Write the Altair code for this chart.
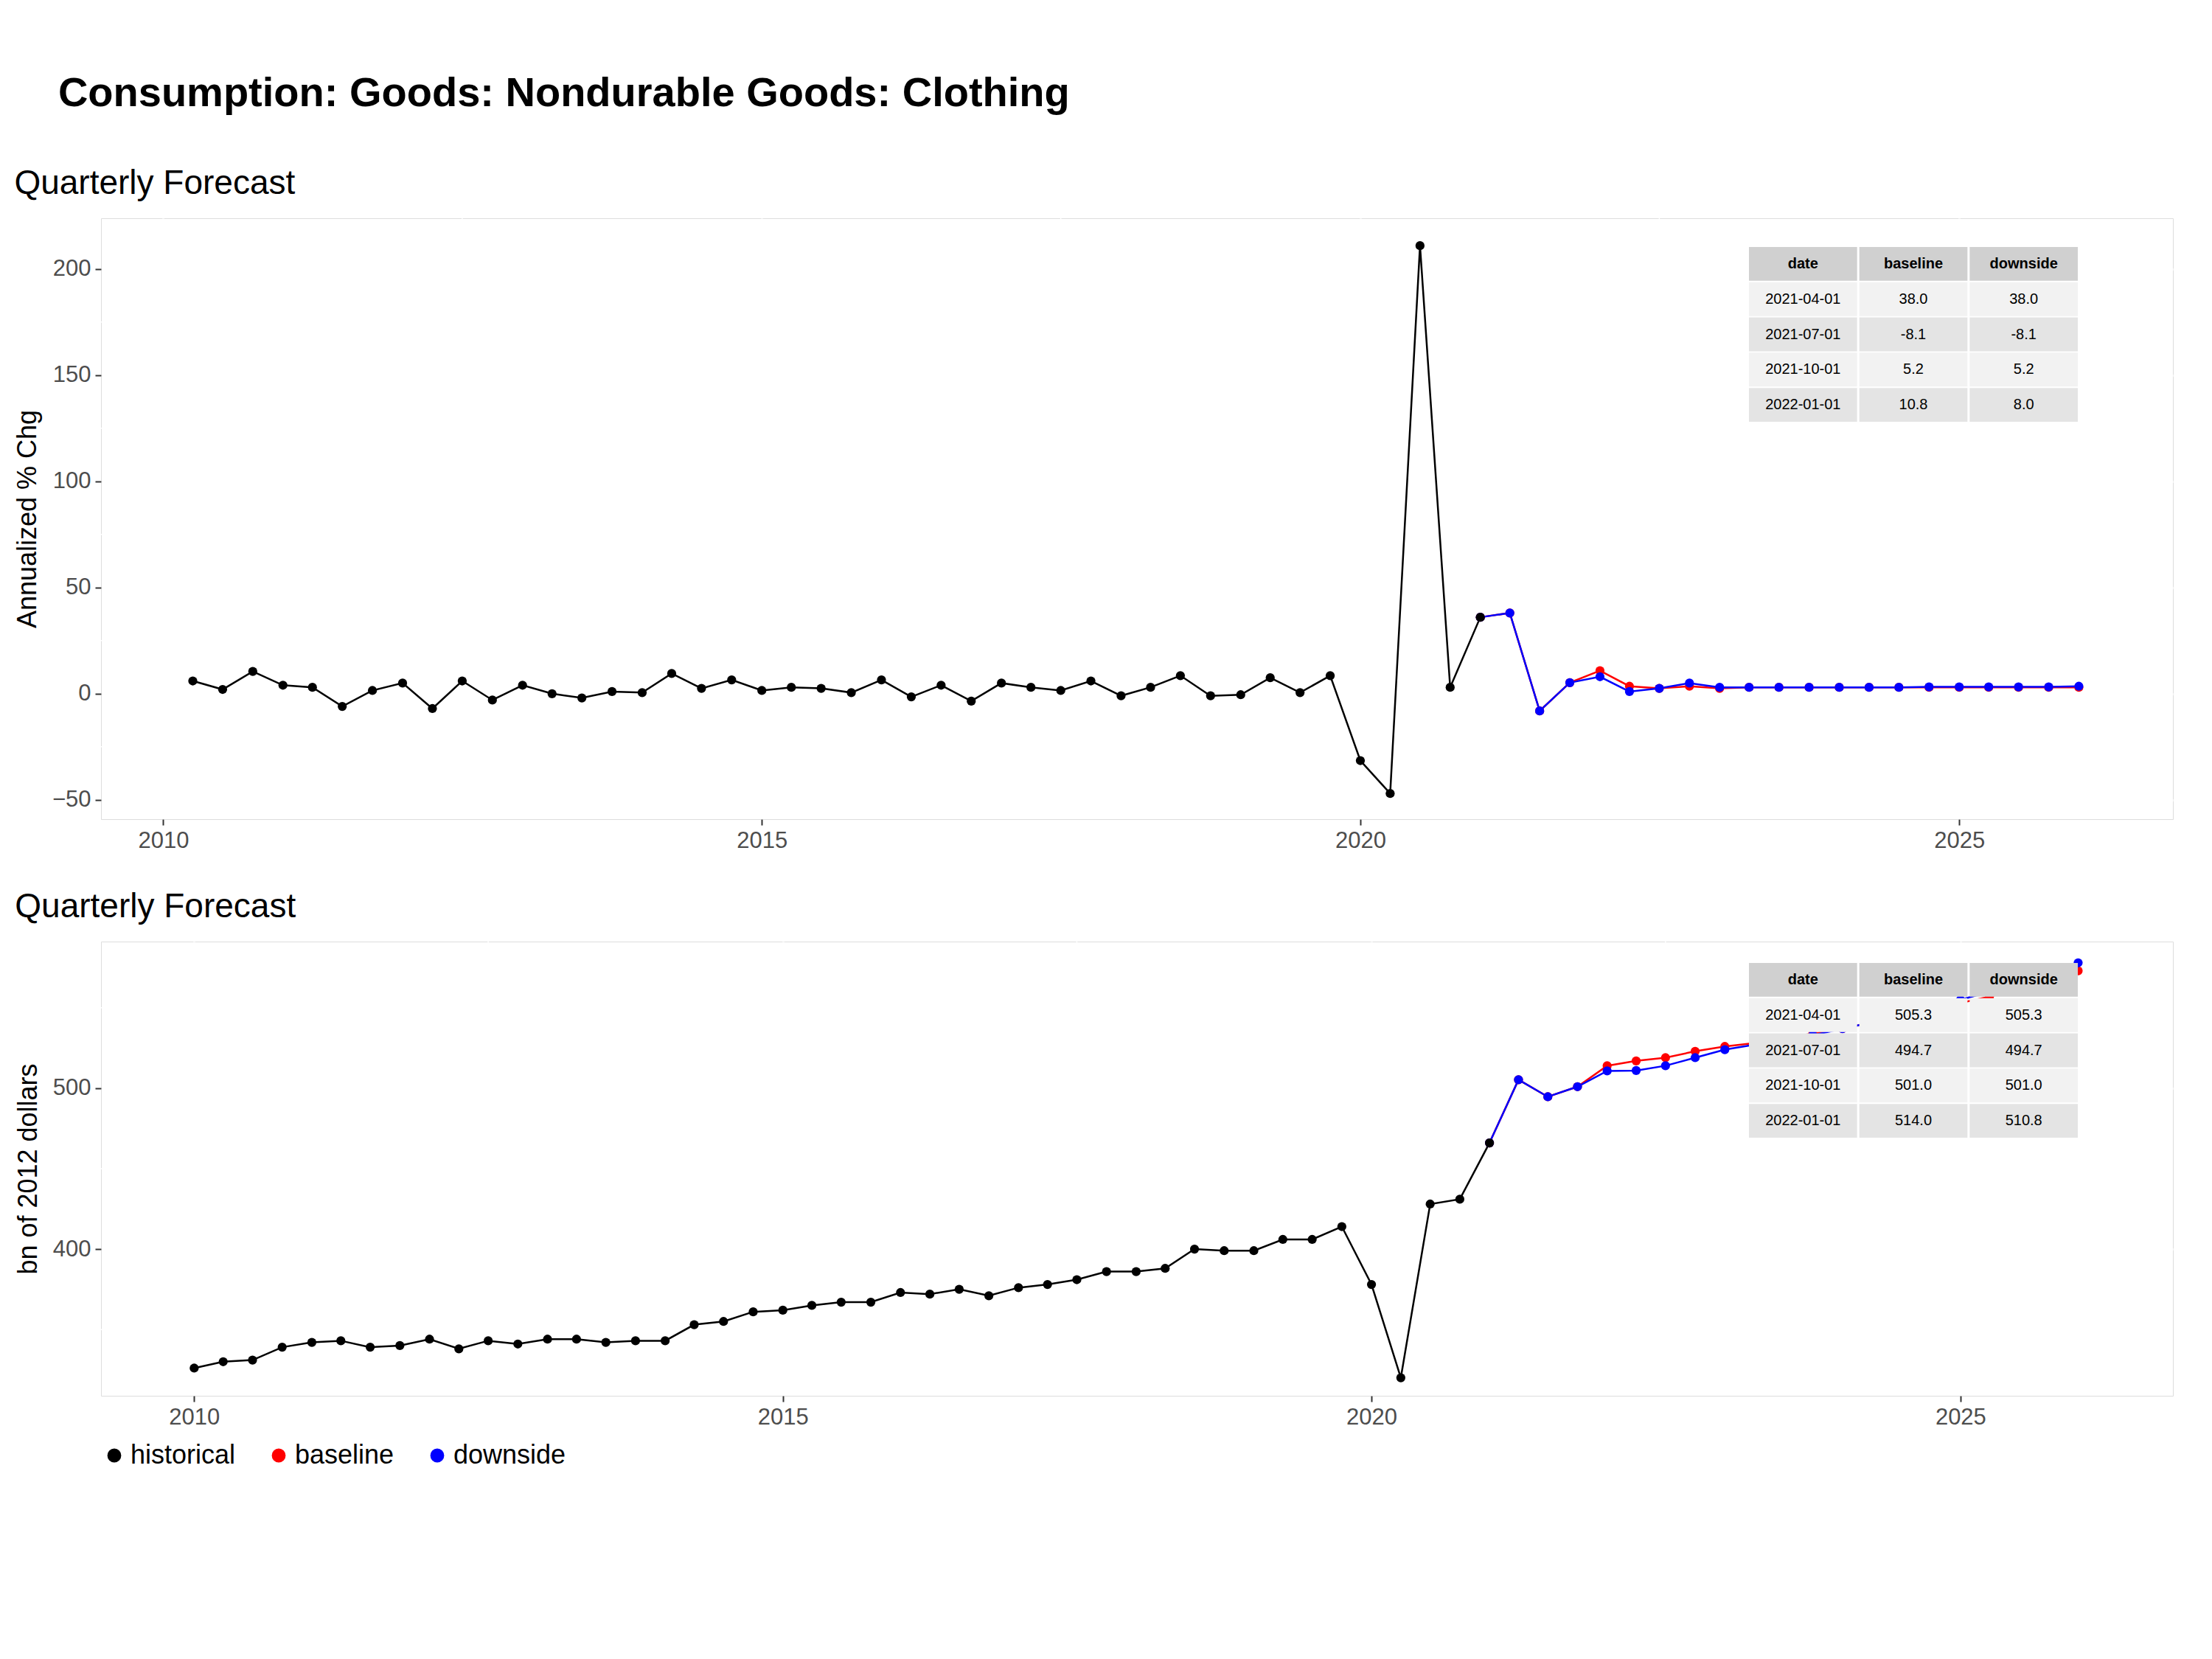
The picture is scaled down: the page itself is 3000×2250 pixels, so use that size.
import altair as alt
import pandas as pd

hist_q = pd.date_range("2010-01-01", "2021-01-01", freq="QS")
fc_q = pd.date_range("2021-01-01", "2026-01-01", freq="QS")

hist_pct = [None, 6, 2, 10.5, 4, 3, -6, 1.5, 5, -7, 6, -3, 4, 0, -2, 1, 0.5, 9.5, 2.5, 6.5,
            1.5, 3, 2.5, 0.5, 6.5, -1.5, 4, -3.5, 5, 3, 1.5, 6, -1, 3, 8.5, -1, -0.5, 7.5, 0.5, 8.5,
            -31.5, -47, 211, 3, 36]
hist_lvl = [326, 330, 331, 339, 342, 343, 339, 340, 344, 338, 343, 341, 344, 344, 342, 343, 343, 353, 355, 361,
            362, 365, 367, 367, 373, 372, 375, 371, 376, 378, 381, 386, 386, 388, 400, 399, 399, 406, 406, 414,
            378, 320, 428, 431, 466]
base_pct = [36, 38, -8.1, 5.2, 10.8, 3.5, 2.5, 3.5, 2.5, 3, 3, 3, 3, 3, 3, 3, 3, 3, 3, 3, 3]
down_pct = [36, 38, -8.1, 5.2, 8.0, 1, 2.5, 5, 3, 3, 3, 3, 3, 3, 3, 3.2, 3.2, 3.2, 3.2, 3.2, 3.5]
base_lvl = [466, 505.3, 494.7, 501, 514, 517, 519, 523, 526, 528, 531, 534, 537, 541, 545, 549, 553, 557, 562, 567, 573]
down_lvl = [466, 505.3, 494.7, 501, 510.8, 511, 514, 519, 524, 527, 530, 533, 537, 541, 545, 550, 555, 560, 566, 572, 578]

tbl_dates = ["2021-04-01", "2021-07-01", "2021-10-01", "2022-01-01"]
tbl_pct_base = ["38.0", "-8.1", "5.2", "10.8"]
tbl_pct_down = ["38.0", "-8.1", "5.2", "8.0"]
tbl_lvl_base = ["505.3", "494.7", "501.0", "514.0"]
tbl_lvl_down = ["505.3", "494.7", "501.0", "510.8"]

series_order = ["historical", "baseline", "downside"]
colors = ["black", "red", "blue"]


def long_df(hv, bv, dv):
    rows = []
    for s, q, vals in [("baseline", fc_q, bv), ("downside", fc_q, dv), ("historical", hist_q, hv)]:
        for d, v in zip(q, vals):
            if v is not None:
                rows.append({"date": d, "value": v, "series": s})
    return pd.DataFrame(rows)


def table_df(bv, dv):
    cols = ["date", "baseline", "downside"]
    rows = []
    for c in cols:
        rows.append({"col": c, "row": "h", "text": c, "fill": "#D0D0D0", "head": 1})
    for i, d in enumerate(tbl_dates):
        fill = "#F2F2F2" if i % 2 == 0 else "#E4E4E4"
        for c, t in zip(cols, [d, bv[i], dv[i]]):
            rows.append({"col": c, "row": f"r{i}", "text": t, "fill": fill, "head": 0})
    return pd.DataFrame(rows)


W = 2810
BG = "#EBEBEB"


def panel(hv, bv, dv, tb, td, ydom, ymajor, yminor, xdom, ytitle, H, trange):
    df = long_df(hv, bv, dv)
    x = alt.X("date:T", scale=alt.Scale(domain=xdom),
              axis=alt.Axis(values=[f"{y}-01-01" for y in (2010, 2015, 2020, 2025)], format="%Y",
                            title=None, labelFontSize=31, labelColor="#4D4D4D", tickColor="#333333",
                            tickSize=8, tickWidth=2, gridColor="white", gridWidth=3, domain=False,
                            labelPadding=6))
    y = alt.Y("value:Q", scale=alt.Scale(domain=ydom, nice=False, zero=False),
              axis=alt.Axis(values=ymajor, title=ytitle, titleFontSize=36, titleFontWeight="normal",
                            titleColor="black", labelFontSize=31, labelColor="#4D4D4D", tickColor="#333333",
                            tickSize=8, tickWidth=2, gridColor="white", gridWidth=3, domain=False,
                            labelPadding=6, titlePadding=14))
    color = alt.Color("series:N", scale=alt.Scale(domain=series_order, range=colors),
                      legend=alt.Legend(title=None, orient="bottom", labelFontSize=36, symbolSize=300,
                                        symbolType="circle", columnPadding=40, labelColor="black"))
    xmin = [f"{y}-07-01" for y in (2012, 2017, 2022)]
    vminor = alt.Chart(pd.DataFrame({"d": xmin})).mark_rule(color="white", strokeWidth=1.5).encode(x="d:T")
    hminor = alt.Chart(pd.DataFrame({"v": yminor})).mark_rule(color="white", strokeWidth=1.5).encode(y="v:Q")
    base = alt.Chart(df)
    lines = base.mark_line(strokeWidth=2.5).encode(x=x, y=y, color=color, detail="series:N")
    pts = base.mark_point(filled=True, size=150, opacity=1).encode(x=x, y=y, color=color)

    t = table_df(tb, td)
    tx = alt.X("col:N", sort=["date", "baseline", "downside"],
               scale=alt.Scale(range=trange[0], paddingInner=0.02, paddingOuter=0), axis=None)
    ty = alt.Y("row:N", sort=["h", "r0", "r1", "r2", "r3"],
               scale=alt.Scale(range=trange[1], paddingInner=0.04, paddingOuter=0), axis=None)
    tbase = alt.Chart(t)
    trect = tbase.mark_rect().encode(x=tx, y=ty, fill=alt.Fill("fill:N", scale=None))
    thead = tbase.mark_text(fontSize=20, color="black", fontWeight="bold").encode(
        x=tx, y=ty, text="text:N").transform_filter("datum.head == 1")
    tbody = tbase.mark_text(fontSize=20, color="black").encode(
        x=tx, y=ty, text="text:N").transform_filter("datum.head == 0")
    table = alt.layer(trect, thead, tbody)

    data_layer = alt.layer(vminor, hminor, lines, pts)
    return alt.layer(data_layer, table).resolve_scale(x="independent", y="independent").properties(
        width=W, height=H,
        title=alt.TitleParams("Quarterly Forecast", anchor="start", fontSize=46, fontWeight="normal",
                              color="black", offset=22))


top = panel(hist_pct, base_pct, down_pct, tbl_pct_base, tbl_pct_down,
            [-59.1, 223.9], [-50, 0, 50, 100, 150, 200], [-25, 25, 75, 125, 175],
            ["2009-06-25", "2026-10-15"], "Annualized % Chg", 815, ([2235, 2681], [39, 276]))
bot = panel(hist_lvl, base_lvl, down_lvl, tbl_lvl_base, tbl_lvl_down,
            [308.8, 591.2], [400, 500], [350, 450, 550],
            ["2009-03-18", "2026-10-22"], "bn of 2012 dollars", 616, ([2235, 2681], [29, 266]))

chart = alt.vconcat(top, bot, spacing=50).properties(
    title=alt.TitleParams("Consumption: Goods: Nondurable Goods: Clothing", anchor="start", fontSize=56,
                          fontWeight="bold", color="black", offset=70, dx=60),
    background="white", padding={"left": 10, "top": 90, "right": 10, "bottom": 10}
).configure_view(fill=BG, stroke=None).configure(font="Liberation Sans").configure_legend(
    labelFont="Liberation Sans")

chart.save("out.html", embed_options={"renderer": "svg", "actions": False})
